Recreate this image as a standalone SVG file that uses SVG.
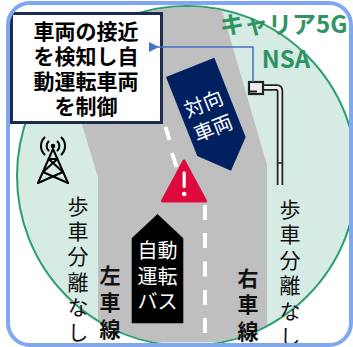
<svg xmlns="http://www.w3.org/2000/svg" width="353" height="347" viewBox="0 0 353 347">
  <style>
    .jp { font-family: "Noto Sans CJK JP", "Noto Sans", sans-serif; }
    .box-text { font-size: 21px; font-weight: bold; fill: #000; text-anchor: middle; }
    .vert { writing-mode: vertical-rl; font-size: 21px; fill: #111; }
    .bold { font-weight: bold; }
    .white { fill: #fff; text-anchor: middle; }
    .dash { stroke: #fff; stroke-width: 4; }
    .tower { stroke: #000; stroke-width: 2; fill: none; stroke-linecap: round; }
  </style>
  <defs>
    <clipPath id="areaClip">
      <circle cx="187" cy="176" r="169"/>
    </clipPath>
    <marker id="arrowHead" viewBox="0 0 10 10" refX="1" refY="5" markerWidth="14" markerHeight="10" markerUnits="userSpaceOnUse" orient="auto">
      <path d="M10,0 L0,5 L10,10 Z" fill="#4472C4"/>
    </marker>
  </defs>

  <rect width="353" height="347" fill="#fff"/>

  <!-- 5G coverage area -->
  <g id="coverage">
    <circle cx="187" cy="176" r="170" fill="#D5EBE3" stroke="#2E9E6E" stroke-width="2"/>
  </g>

  <!-- road surface -->
  <g id="road">
    <polygon clip-path="url(#areaClip)" points="44,0 219,0 267,165 267,342 98,342 98,177" fill="#BFBFBF"/>
    <!-- centre line -->
    <line class="dash" x1="165.5" y1="127" x2="169.5" y2="140"/>
    <line class="dash" x1="172" y1="153" x2="176.5" y2="167"/>
    <line class="dash" x1="179" y1="178" x2="183" y2="191"/>
    <line class="dash" x1="205" y1="205" x2="205" y2="220"/>
    <line class="dash" x1="205" y1="233" x2="205" y2="248"/>
    <line class="dash" x1="205" y1="261.5" x2="205" y2="276.5"/>
    <line class="dash" x1="205" y1="290" x2="205" y2="305"/>
    <line class="dash" x1="205" y1="318" x2="205" y2="333"/>
  </g>

  <!-- area label -->
  <g id="carrier-label" class="jp" font-weight="bold" font-size="24" fill="#2F9363">
    <text x="220" y="33">キャリア5G</text>
    <text x="286" y="68" text-anchor="middle">NSA</text>
  </g>

  <!-- oncoming vehicle -->
  <g id="oncoming" transform="translate(166,77) rotate(-21.6)">
    <polygon points="0,0 52,0 52,85 26,111 0,85" fill="#002060"/>
    <text class="jp white" font-size="20"><tspan x="25" y="46">対向</tspan><tspan x="25" dy="26">車両</tspan></text>
  </g>

  <!-- warning sign -->
  <g id="warning">
    <polygon points="184,161 162.5,201 205.5,201" fill="#DE0A3C" stroke="#DE0A3C" stroke-width="3" stroke-linejoin="round"/>
    <rect x="182.6" y="171.5" width="3.2" height="16.5" rx="1.2" fill="#fff"/>
    <circle cx="184.2" cy="194" r="2.3" fill="#fff"/>
  </g>

  <!-- autonomous bus -->
  <g id="bus">
    <polygon points="157.5,214 183.3,238.3 183.3,323.3 131.7,323.3 131.7,238.3" fill="#000"/>
    <text class="jp white" font-size="20"><tspan x="157.5" y="258">自動</tspan><tspan x="157.5" dy="26">運転</tspan><tspan x="157.5" dy="25">バス</tspan></text>
  </g>

  <!-- lane labels (vertical) -->
  <g id="left-lane">
    <text class="jp vert bold" x="110" y="264.5" letter-spacing="6">左車線</text>
  </g>
  <g id="right-lane">
    <text class="jp vert bold" x="248" y="267.5" letter-spacing="5.5">右車線</text>
  </g>

  <!-- sidewalk notes (vertical) -->
  <g id="left-note">
    <text class="jp vert" x="78" y="195.5" letter-spacing="4.2">歩車分離なし</text>
  </g>
  <g id="right-note">
    <text class="jp vert" x="290" y="198.5" letter-spacing="4.4">歩車分離なし</text>
  </g>

  <!-- base station -->
  <g id="base-station" class="tower">
    <circle cx="53" cy="146" r="2.3" fill="#000" stroke="none"/>
    <path d="M48.5,141.5 A6.4,6.4 0 0 0 48.5,150.5"/>
    <path d="M57.5,141.5 A6.4,6.4 0 0 1 57.5,150.5"/>
    <path d="M44.5,137.5 A12,12 0 0 0 44.5,154.5"/>
    <path d="M61.5,137.5 A12,12 0 0 1 61.5,154.5"/>
    <path d="M53,149 L38,183 M53,149 L68,183"/>
    <path d="M48.6,159 L57.4,159 M48.6,159 L63,172 M57.4,159 L43,172 M43,172 L68,183 M63,172 L38,183"/>
  </g>

  <!-- roadside unit on pole -->
  <g id="roadside-unit">
    <path d="M262,87.5 H276.5 Q280,87.5 280,91 V185" fill="none" stroke="#222" stroke-width="6.5"/>
    <path d="M262,87.5 H276.5 Q280,87.5 280,91 V185" fill="none" stroke="#EDEDED" stroke-width="3"/>
    <line x1="277" y1="163" x2="283" y2="163" stroke="#222" stroke-width="1.5"/>
    <rect x="249" y="82" width="14" height="12" fill="#EDEDED" stroke="#222" stroke-width="2.2"/>
    <line x1="250" y1="91.5" x2="257" y2="91.5" stroke="#222" stroke-width="2"/>
  </g>

  <!-- notification box -->
  <g id="control-box">
    <rect x="11.5" y="13.5" width="150" height="109" fill="#fff" stroke="#1C2C4C" stroke-width="3"/>
    <text class="jp box-text"><tspan x="86" y="39">車両の接近</tspan><tspan x="86" dy="25">を検知し自</tspan><tspan x="86" dy="25">動運転車両</tspan><tspan x="86" dy="25">を制御</tspan></text>
  </g>

  <!-- connectors -->
  <g id="connectors">
    <polyline points="253,82 253,47 158,47" fill="none" stroke="#4472C4" stroke-width="1.5" marker-end="url(#arrowHead)"/>
  </g>

  <!-- frame -->
  <rect x="8" y="3" width="343" height="342" rx="22" fill="none" stroke="#7FA8F0" stroke-width="4"/>
</svg>
